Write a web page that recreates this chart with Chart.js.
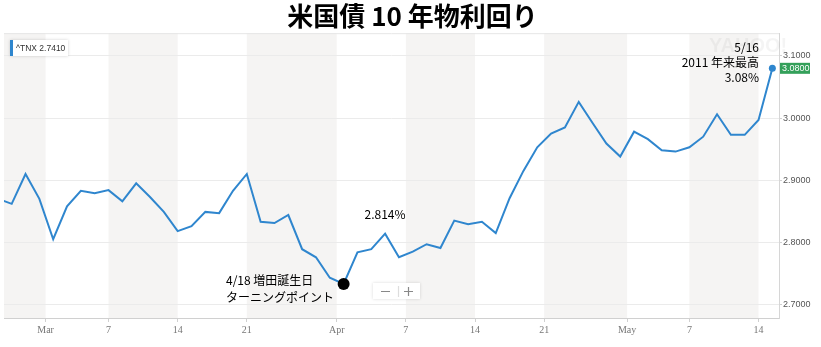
<!DOCTYPE html>
<html>
<head>
<meta charset="utf-8">
<script src="https://cdn.jsdelivr.net/npm/chart.js@4/dist/chart.umd.min.js"></script>
<style>
  body { margin: 0; background: #fff; }
</style>
</head>
<body>
<canvas id="grafico" width="821" height="347"></canvas>
<script>
// 取引日 (2/23 は左端で切れる)
var dias = ['2/23', '2/26', '2/27', '2/28', '3/1', '3/2', '3/5', '3/6', '3/7', '3/8', '3/9',
    '3/12', '3/13', '3/14', '3/15', '3/16', '3/19', '3/20', '3/21', '3/22', '3/23',
    '3/26', '3/27', '3/28', '3/29', '4/2', '4/3', '4/4', '4/5', '4/6',
    '4/9', '4/10', '4/11', '4/12', '4/13', '4/16', '4/17', '4/18', '4/19', '4/20',
    '4/23', '4/24', '4/25', '4/26', '4/27', '4/30', '5/1', '5/2', '5/3', '5/4',
    '5/7', '5/8', '5/9', '5/10', '5/11', '5/14', '5/15'];

// ^TNX 終値
var rendimientos = [2.870, 2.862, 2.910, 2.870, 2.805, 2.858, 2.883, 2.879, 2.884, 2.866, 2.895,
    2.873, 2.849, 2.818, 2.826, 2.849, 2.847, 2.883, 2.910, 2.833, 2.831,
    2.844, 2.789, 2.776, 2.743, 2.733, 2.784, 2.789, 2.814, 2.776,
    2.785, 2.797, 2.791, 2.835, 2.829, 2.833, 2.815, 2.871, 2.915, 2.953,
    2.975, 2.985, 3.026, 2.992, 2.959, 2.938, 2.978, 2.966, 2.948, 2.946,
    2.953, 2.970, 3.006, 2.973, 2.973, 2.997, 3.080];

// 横軸の目盛 (取引日の番号) とラベル
var posEtiquetas = [2.45, 7, 12, 17, 23.5, 28.5, 33.5, 38.5, 44.5, 49, 54];
var etiquetasX = ['Mar', '7', '14', '21', 'Apr', '7', '14', '21', 'May', '7', '14'];
var etiquetasY = [2.7, 2.8, 2.9, 3.0, 3.1];

var ultimo = rendimientos.length - 1;
var giro = dias.indexOf('4/2');
var pico = dias.indexOf('4/5');

function $each(lista, fn) {
    for (var i = 0; i < lista.length; i++) fn(i, lista[i]);
}

var puntos = [];
$each(rendimientos, function(i, v) {
    puntos.push({ x: i - 1, y: v });
});

var azul = 'rgb(47,134,206)';

// 背景の縞、透かし、注記
var decoracion = {
    id: 'decoracion',
    beforeDraw: function(chart) {
        var ctx = chart.ctx, area = chart.chartArea, x = chart.scales.x;
        var bordes = [area.left];
        $each(posEtiquetas, function(i, v) { bordes.push(x.getPixelForValue(v)); });
        bordes.push(area.right);
        ctx.save();
        ctx.fillStyle = '#f5f4f3';
        for (var i = 0; i < bordes.length - 1; i += 2) {
            ctx.fillRect(bordes[i], area.top, bordes[i + 1] - bordes[i], area.bottom - area.top);
        }
        ctx.strokeStyle = '#e6e6e6';
        ctx.lineWidth = 1;
        ctx.beginPath();
        ctx.moveTo(area.left, area.top + 0.5);
        ctx.lineTo(area.right, area.top + 0.5);
        ctx.stroke();
        ctx.restore();
    },
    beforeDatasetsDraw: function(chart) {
        var ctx = chart.ctx;
        ctx.save();
        ctx.fillStyle = 'rgba(0,0,0,0.045)';
        ctx.font = 'bold 20px "Liberation Sans"';
        ctx.textBaseline = 'top';
        ctx.fillText('YAHOO!', 709, 36);
        ctx.restore();
    },
    afterDatasetsDraw: function(chart) {
        var ctx = chart.ctx, x = chart.scales.x, y = chart.scales.y, area = chart.chartArea;
        ctx.save();

        // 凡例ボックス
        ctx.shadowColor = 'rgba(0,0,0,0.18)';
        ctx.shadowBlur = 3;
        ctx.fillStyle = '#fff';
        ctx.fillRect(10, 40, 58, 16);
        ctx.shadowColor = 'transparent';
        ctx.fillStyle = azul;
        ctx.fillRect(10, 40, 3, 16);
        ctx.fillStyle = '#333';
        ctx.font = '8.5px "Liberation Sans"';
        ctx.textBaseline = 'middle';
        ctx.textAlign = 'left';
        ctx.fillText('^TNX 2.7410', 16, 48.5);

        // ズームボタン
        ctx.shadowColor = 'rgba(0,0,0,0.15)';
        ctx.shadowBlur = 3;
        ctx.fillStyle = '#fff';
        ctx.fillRect(373, 283, 47, 16);
        ctx.shadowColor = 'transparent';
        ctx.strokeStyle = '#888';
        ctx.lineWidth = 1.2;
        ctx.beginPath();
        ctx.moveTo(381, 291.5); ctx.lineTo(390, 291.5);
        ctx.moveTo(404, 291.5); ctx.lineTo(413, 291.5);
        ctx.moveTo(408.5, 287); ctx.lineTo(408.5, 296);
        ctx.stroke();
        ctx.strokeStyle = '#ddd';
        ctx.beginPath();
        ctx.moveTo(398.5, 286); ctx.lineTo(398.5, 297);
        ctx.stroke();

        // 現在値
        var yUlt = y.getPixelForValue(rendimientos[ultimo]);
        ctx.fillStyle = 'rgb(52,160,90)';
        ctx.fillRect(area.right + 1, yUlt - 5.5, 30, 11);
        ctx.fillStyle = '#fff';
        ctx.font = '9px "Liberation Sans"';
        ctx.fillText(rendimientos[ultimo].toFixed(4), area.right + 3, yUlt + 0.5);

        // 注記
        ctx.fillStyle = '#000';
        ctx.font = '12px "Noto Sans CJK JP"';
        ctx.textAlign = 'right';
        ctx.fillText('5/16', 759, 47);
        ctx.fillText('2011 年来最高', 759, 62);
        ctx.fillText(rendimientos[ultimo].toFixed(2) + '%', 759, 77);

        ctx.textAlign = 'center';
        ctx.fillText(rendimientos[pico].toFixed(3) + '%', 385, 214);

        ctx.textAlign = 'left';
        ctx.fillText('4/18 増田誕生日', 226, 280);
        ctx.fillText('ターニングポイント', 226, 297);

        ctx.restore();
    }
};

const ctx = document.getElementById('grafico').getContext('2d');
const graficoTNX = new Chart(ctx, {
    type: 'line',
    data: {
        datasets: [{
            label: '^TNX',
            data: puntos,
            borderColor: azul,
            borderWidth: 2,
            tension: 0,
            fill: false,
            pointRadius: function(c) {
                if (c.dataIndex === giro) return 6;
                if (c.dataIndex === ultimo) return 3.5;
                return 0;
            },
            pointBackgroundColor: function(c) {
                return c.dataIndex === giro ? '#000' : azul;
            },
            pointBorderWidth: 0,
            pointHoverRadius: 0
        }]
    },
    options: {
        responsive: false,
        animation: false,
        events: [],
        layout: { padding: { left: 4, right: 0, top: 0, bottom: 0 } },
        plugins: {
            legend: { display: false },
            tooltip: { enabled: false },
            title: {
                display: true,
                text: '米国債 10 年物利回り',
                color: '#000',
                font: { family: '"Noto Sans CJK JP"', size: 26, weight: 'bold', lineHeight: 1.2 },
                padding: { top: 1, bottom: 1 }
            }
        },
        scales: {
            x: {
                type: 'linear',
                min: -0.557,
                max: 55.48,
                afterBuildTicks: function(scale) {
                    scale.ticks = posEtiquetas.map(function(v) { return { value: v }; });
                },
                afterFit: function(scale) { scale.height = 29; },
                ticks: {
                    autoSkip: false,
                    maxRotation: 0,
                    padding: 2,
                    color: '#777',
                    font: { family: '"Liberation Serif"', size: 10 },
                    callback: function(v, i) { return etiquetasX[i]; }
                },
                grid: { drawOnChartArea: false, tickLength: 4, color: '#d0d0d0' },
                border: { color: '#d0d0d0' }
            },
            y: {
                position: 'right',
                min: 2.6783,
                max: 3.1365,
                afterBuildTicks: function(scale) {
                    scale.ticks = etiquetasY.map(function(v) { return { value: v }; });
                },
                afterFit: function(scale) { scale.width = 42; },
                ticks: {
                    padding: 1,
                    color: '#555',
                    font: { family: '"Liberation Sans"', size: 9 },
                    callback: function(v) { return v.toFixed(4); }
                },
                grid: { color: '#ebebeb', tickLength: 3, tickColor: '#d0d0d0' },
                border: { color: '#d6d6d6' }
            }
        }
    },
    plugins: [decoracion]
});
</script>
</body>
</html>
